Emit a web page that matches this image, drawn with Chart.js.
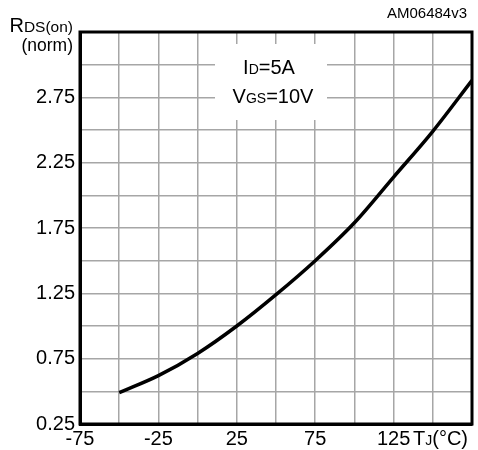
<!DOCTYPE html>
<html>
<head>
<meta charset="utf-8">
<script src="https://cdn.jsdelivr.net/npm/chart.js@4"></script>
<style>
  html, body { margin: 0; padding: 0; background: #fff; }
  #wrap { width: 478px; height: 450px; position: relative; }
</style>
</head>
<body>
<div id="wrap"><canvas id="myChart"></canvas></div>
<script>
  // normalised on-resistance vs junction temperature
  let tempC = [-50, -25, 0, 25, 50, 75, 100, 125, 150, 175];
  let rdsNorm = [0.49, 0.62, 0.79, 1.0, 1.24, 1.5, 1.79, 2.14, 2.49, 2.88];
  let xTickLabels = [-75, -25, 25, 75, 125];
  let yTickLabels = [0.25, 0.75, 1.25, 1.75, 2.25, 2.75];

  const FONT = "'Liberation Sans', Arial, sans-serif";

  // draws text runs, each with its own size, starting at x
  function runs(c, parts, x, y) {
    parts.forEach(p => {
      c.font = p[1] + "px " + FONT;
      c.fillText(p[0], x, y + (p[2] || 0));
      x += c.measureText(p[0]).width;
    });
    return x;
  }
  function runsWidth(c, parts) {
    let w = 0;
    parts.forEach(p => { c.font = p[1] + "px " + FONT; w += c.measureText(p[0]).width; });
    return w;
  }

  const extras = {
    id: 'extras',
    beforeDatasetsDraw(chart) {
      const c = chart.ctx;
      c.save();
      // white label box over the grid
      c.fillStyle = '#fff';
      c.fillRect(215, 44, 112, 76);
      c.fillStyle = '#000';
      c.textBaseline = 'alphabetic';
      let l1 = [["I", 20], ["D", 14], ["=5A", 20]];
      let l2 = [["V", 20], ["GS", 14], ["=10V", 20]];
      runs(c, l1, 269 - runsWidth(c, l1) / 2, 74);
      runs(c, l2, 273 - runsWidth(c, l2) / 2, 103);
      c.restore();
    },
    afterDraw(chart) {
      const c = chart.ctx, a = chart.chartArea;
      c.save();
      c.strokeStyle = '#000';
      c.lineWidth = 3;
      c.strokeRect(a.left, a.top, a.right - a.left, a.bottom - a.top);
      c.fillStyle = '#000';
      c.textBaseline = 'alphabetic';
      // y axis title
      let t = [["R", 20], ["DS(on)", 15.5]];
      runs(c, t, 73 - runsWidth(c, t), 32);
      c.font = "17.5px " + FONT;
      c.textAlign = 'right';
      c.fillText("(norm)", 73, 51);
      c.textAlign = 'left';
      // x axis title
      runs(c, [["T", 20], ["J", 14], ["(°C)", 20]], 413, 445);
      // figure code
      c.font = "15px " + FONT;
      c.textAlign = 'right';
      c.fillText("AM06484v3", 467, 18);
      c.restore();
    }
  };

  const ctx = document.getElementById('myChart');

  let data = {
    datasets: [{
      data: tempC.map((t, i) => ({ x: t, y: rdsNorm[i] })),
      borderColor: '#000',
      borderWidth: 3.5,
      pointRadius: 0,
      cubicInterpolationMode: 'monotone',
      fill: false
    }]
  };

  let configuration = {
    type: 'line',
    data: data,
    options: {
      responsive: true,
      maintainAspectRatio: false,
      animation: false,
      layout: { padding: { top: 32, right: 6, left: 0, bottom: 0 } },
      plugins: { legend: { display: false }, tooltip: { enabled: false } },
      scales: {
        x: {
          type: 'linear',
          min: -75, max: 175,
          afterFit: s => { s.height = 26; },
          afterBuildTicks: s => { s.ticks = []; for (let v = -75; v <= 175; v += 25) s.ticks.push({ value: v }); },
          grid: { color: '#a6a6a6', lineWidth: 1.5, drawTicks: false },
          border: { color: '#000', width: 3 },
          ticks: {
            padding: 3,
            color: '#000',
            maxRotation: 0,
            autoSkip: false,
            font: { family: FONT, size: 20 },
            callback: v => xTickLabels.includes(v) ? String(v) : ''
          }
        },
        y: {
          min: 0.25, max: 3.25,
          afterFit: s => { s.width = 80; },
          afterBuildTicks: s => { s.ticks = []; for (let i = 0; i <= 12; i++) s.ticks.push({ value: 0.25 + i * 0.25 }); },
          grid: { color: '#a6a6a6', lineWidth: 1.5, drawTicks: false },
          border: { color: '#000', width: 3 },
          ticks: {
            padding: 5,
            color: '#000',
            autoSkip: false,
            font: { family: FONT, size: 20 },
            callback: v => {
              let hit = yTickLabels.find(y => Math.abs(y - v) < 1e-6);
              return hit !== undefined ? hit.toFixed(2) : '';
            }
          }
        }
      }
    },
    plugins: [extras]
  };

  new Chart(ctx, configuration);
</script>
</body>
</html>
